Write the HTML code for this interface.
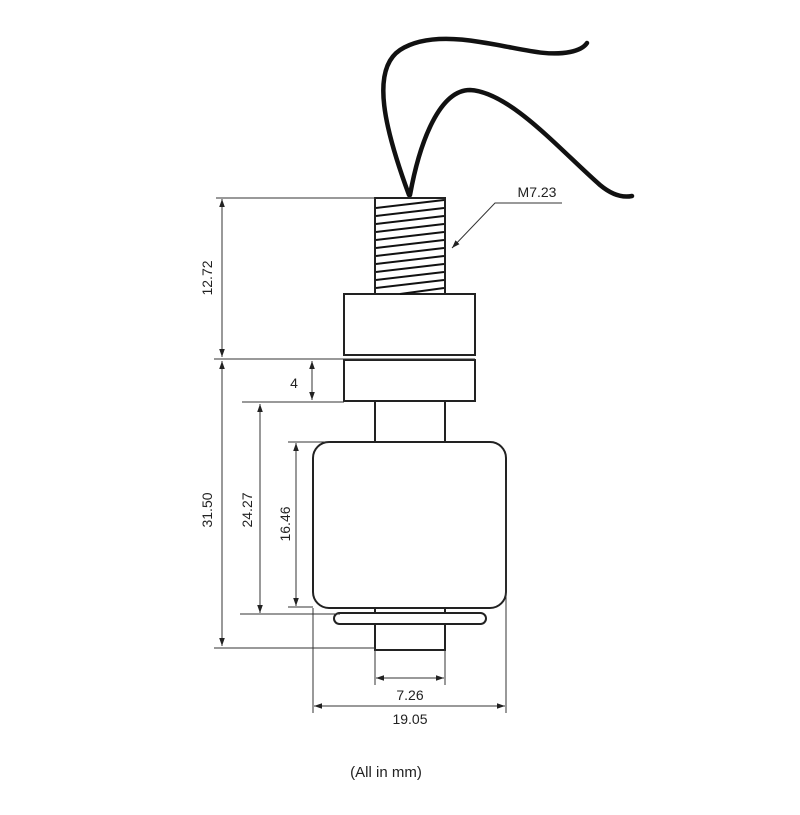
<!DOCTYPE html>
<html><head><style>body{margin:0;background:#fff}svg{display:block}text{font-family:"Liberation Sans",sans-serif;fill:#222}</style></head><body>
<svg width="800" height="815" viewBox="0 0 800 815" xmlns="http://www.w3.org/2000/svg">
<defs><marker id="a" viewBox="0 0 10 10" refX="10" refY="5" markerWidth="8" markerHeight="8" orient="auto-start-reverse"><path d="M0,1.5 L10,5 L0,8.5 Z" fill="#222"/></marker></defs>
<g fill="none" stroke="#111" stroke-width="4.5" stroke-linecap="round">
<path d="M409,195 C385,130 370,70 400,50 C420,37 450,37 480,42 C520,48 545,57 570,52 C580,50 585,46 587,43"/>
<path d="M410,195 C420,140 440,90 470,90 C510,92 560,150 600,185 C612,195 622,198 632,196"/>
</g>
<g fill="none" stroke="#222" stroke-width="2">
<rect x="375" y="198" width="70" height="96"/>
<rect x="344" y="294" width="131" height="61"/>
<rect x="344" y="360" width="131" height="41"/>
<line x1="375" y1="401" x2="375" y2="442"/><line x1="445" y1="401" x2="445" y2="442"/>
<rect x="313" y="442" width="193" height="166" rx="16"/>
<line x1="375" y1="608" x2="375" y2="613"/><line x1="445" y1="608" x2="445" y2="613"/>
<rect x="334" y="613" width="152" height="11" rx="5.5"/>
<rect x="375" y="624" width="70" height="26"/>
</g>
<g stroke="#111" stroke-width="2">
<path d="M376,208 L444,200 M376,216 L444,208 M376,224 L444,216 M376,232 L444,224 M376,240 L444,232 M376,248 L444,240 M376,256 L444,248 M376,264 L444,256 M376,272 L444,264 M376,280 L444,272 M376,288 L444,280 M400,294 L444,288"/>
</g>
<g stroke="#333" stroke-width="1" fill="none">
<line x1="216" y1="198" x2="375" y2="198"/>
<line x1="214" y1="359" x2="475" y2="359"/>
<line x1="242" y1="402" x2="344" y2="402"/>
<line x1="288" y1="442" x2="330" y2="442"/>
<line x1="288" y1="607" x2="313" y2="607"/>
<line x1="240" y1="614" x2="340" y2="614"/>
<line x1="214" y1="648" x2="375" y2="648"/>
<line x1="375" y1="650" x2="375" y2="685"/><line x1="445" y1="650" x2="445" y2="685"/>
<line x1="313" y1="608" x2="313" y2="713"/><line x1="506" y1="480" x2="506" y2="713"/>
<line x1="222" y1="199" x2="222" y2="357" marker-start="url(#a)" marker-end="url(#a)"/>
<line x1="222" y1="361" x2="222" y2="646" marker-start="url(#a)" marker-end="url(#a)"/>
<line x1="312" y1="361" x2="312" y2="400" marker-start="url(#a)" marker-end="url(#a)"/>
<line x1="260" y1="404" x2="260" y2="613" marker-start="url(#a)" marker-end="url(#a)"/>
<line x1="296" y1="443" x2="296" y2="606" marker-start="url(#a)" marker-end="url(#a)"/>
<line x1="376" y1="678" x2="444" y2="678" marker-start="url(#a)" marker-end="url(#a)"/>
<line x1="314" y1="706" x2="505" y2="706" marker-start="url(#a)" marker-end="url(#a)"/>
<polyline points="562,203 495,203 452,248" marker-end="url(#a)"/>
</g>
<g font-size="14">
<text x="537" y="197" text-anchor="middle">M7.23</text>
<text transform="translate(212,278) rotate(-90)" text-anchor="middle">12.72</text>
<text transform="translate(212,510) rotate(-90)" text-anchor="middle">31.50</text>
<text transform="translate(252,510) rotate(-90)" text-anchor="middle">24.27</text>
<text transform="translate(290,524) rotate(-90)" text-anchor="middle">16.46</text>
<text x="294" y="388" text-anchor="middle">4</text>
<text x="410" y="700" text-anchor="middle">7.26</text>
<text x="410" y="724" text-anchor="middle">19.05</text>
<text x="386" y="777" text-anchor="middle" font-size="15">(All in mm)</text>
</g>
</svg>
</body></html>
